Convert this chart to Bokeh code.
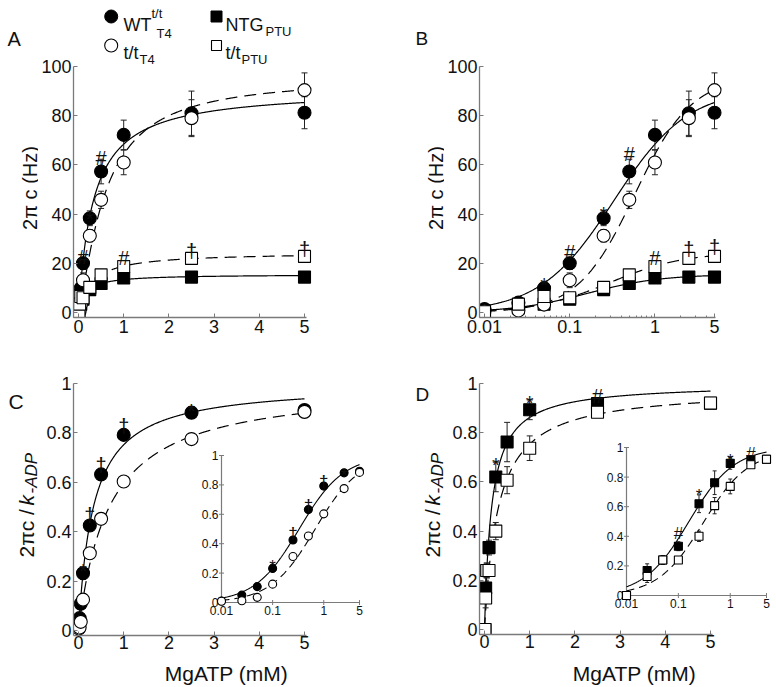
import numpy as np
from bokeh.plotting import figure
from bokeh.models import Range1d, LogScale, FixedTicker, Label
from bokeh.layouts import column, row
from bokeh.core.properties import value
from bokeh.embed import file_html
from bokeh.resources import INLINE

FONT = "Liberation Sans"
INK = "#111111"
AXIS = "#7a7a7a"

# ---------------- data ----------------
mgatp_mM = [0.01, 0.025, 0.05, 0.1, 0.25, 0.5, 1, 2.5, 5]

# 2*pi*c (Hz)  -- panels A and B
wt_t4_hz = [1.4, 4.0, 9.9, 20.0, 38.3, 57.3, 72.2, 81.0, 81.2]
wt_t4_hz_sd = [0.5, 0.8, 1.5, 2.5, 3.0, 5.0, 6.0, 9.0, 6.5]
tt_t4_hz = [0.5, 0.8, 3.2, 13.1, 31.2, 45.8, 61.0, 79.0, 90.4]
tt_t4_hz_sd = [0.3, 0.5, 1.0, 3.0, 2.5, 3.5, 5.0, 7.5, 7.0]
ntg_ptu_hz = [0.6, 1.8, 3.4, 5.4, 9.3, 11.8, 14.0, 14.4, 14.4]
ntg_ptu_hz_sd = [0.2, 0.3, 0.5, 0.8, 1.0, 1.0, 1.0, 1.0, 1.0]
tt_ptu_hz = [0.3, 3.4, 6.5, 6.0, 10.2, 15.3, 18.7, 22.0, 22.8]
tt_ptu_hz_sd = [0.2, 0.8, 1.0, 1.0, 1.0, 1.5, 1.5, 1.5, 1.5]

# 2*pi*c / k-ADP  -- panel C (WT t/t T4, t/t T4) and panel D (NTG PTU, t/t PTU)
wt_t4_norm = [0.01, 0.05, 0.108, 0.232, 0.425, 0.632, 0.792, 0.882, 0.893]
wt_t4_norm_sd = [0.005, 0.01, 0.01, 0.025, 0.02, 0.02, 0.015, 0.015, 0.015]
tt_t4_norm = [0.008, 0.012, 0.035, 0.125, 0.313, 0.452, 0.603, 0.775, 0.885]
tt_t4_norm_sd = [0.005, 0.005, 0.01, 0.02, 0.02, 0.02, 0.015, 0.015, 0.015]
ntg_ptu_norm = [0.0, 0.169, 0.24, 0.333, 0.62, 0.762, 0.893, 0.918, 0.92]
ntg_ptu_norm_sd = [0.005, 0.045, 0.03, 0.03, 0.06, 0.08, 0.04, 0.02, 0.02]
tt_ptu_norm = [0.0, 0.128, 0.24, 0.24, 0.40, 0.607, 0.737, 0.883, 0.921]
tt_ptu_norm_sd = [0.005, 0.04, 0.03, 0.02, 0.035, 0.055, 0.05, 0.01, 0.01]

# fitted curves: vmax * x^n / (km^n + x^n)   order: WT_T4, t/t_T4, NTG_PTU, t/t_PTU
fit_vmax_hz = [91.0, 96.0, 15.5, 24.5]
fit_km_hz = [0.33, 0.58, 0.16, 0.30]
fit_n_hz = [1.0, 1.3, 1.0, 1.0]
fit_vmax_norm = [1.0, 1.0, 1.0, 0.98]
fit_km_norm = [0.33, 0.68, 0.16, 0.30]
fit_n_norm = [1.0, 1.0, 1.0, 1.0]

# significance marks (symbol, MgATP, label baseline in data units)
sig_a_sym = ["#", "*", "#", "#", "\u2020", "\u2020"]
sig_a_x = [0.1, 0.25, 0.5, 1, 2.5, 5]
sig_a_y = [22.4, 38.2, 63.0, 22.0, 25.2, 26.0]
sig_b_sym = ["*", "#", "*", "#", "#", "\u2020", "\u2020"]
sig_b_x = [0.05, 0.1, 0.25, 0.5, 1, 2.5, 5]
sig_b_y = [11.0, 24.4, 40.2, 64.6, 22.0, 26.0, 26.8]
sig_c_sym = ["*", "\u2020", "\u2020", "\u2020", "*"]
sig_c_x = [0.1, 0.25, 0.5, 1, 2.5]
sig_c_y = [0.239, 0.467, 0.669, 0.827, 0.889]
sig_c_inset_y = [0.245, 0.469, 0.662, 0.821, 0.866]
sig_d_sym = ["*", "*", "#"]
sig_d_x = [0.25, 1, 2.5]
sig_d_y = [0.668, 0.919, 0.951]
sig_d_inset_sym = ["#", "*", "*", "#"]
sig_d_inset_x = [0.1, 0.25, 1, 2.5]
sig_d_inset_y = [0.417, 0.678, 0.914, 0.957]

# ticks
lin_x_ticks = [0, 1, 2, 3, 4, 5]
hz_ticks = [0, 20, 40, 60, 80, 100]
norm_ticks = [0, 0.2, 0.4, 0.6, 0.8, 1]
norm_tick_labels = ["0", "0.2", "0.4", "0.6", "0.8", "1"]
log_ticks = [0.01, 0.1, 1, 5]
log_tick_labels = ["0.01", "0.1", "1", "5"]
log_minor = [0.02, 0.03, 0.04, 0.05, 0.06, 0.07, 0.08, 0.09,
             0.2, 0.3, 0.4, 0.5, 0.6, 0.7, 0.8, 0.9, 2, 3, 4]


def hill(x, vmax, km, n):
    x = np.asarray(x, dtype=float)
    return vmax * x ** n / (km ** n + x ** n)


# ---------------- page-pixel <-> data helpers (layout only) ----------------
def lin(p0, v0, p1, v1):
    return lambda p: float(v0 + (p - p0) * (v1 - v0) / (p1 - p0))


def logm(p0, v0, p1, v1):
    a, b = np.log10(v0), np.log10(v1)
    return lambda p: float(10 ** (a + (p - p0) * (b - a) / (p1 - p0)))


def make_fig(canvas, frame, xmap, ymap, xlog=False):
    cx0, cy0, cx1, cy1 = canvas
    fl, ft, fr, fb = frame
    p = figure(width=cx1 - cx0, height=cy1 - cy0,
               frame_width=fr - fl, frame_height=fb - ft,
               min_border_left=fl - cx0, min_border_right=cx1 - fr,
               min_border_top=ft - cy0, min_border_bottom=cy1 - fb,
               x_range=Range1d(xmap(fl), xmap(fr)), y_range=Range1d(ymap(fb), ymap(ft)),
               x_axis_type="log" if xlog else "linear",
               output_backend="svg", toolbar_location=None,
               outline_line_color=None, background_fill_color="white",
               border_fill_color="white")
    p.xgrid.visible = False
    p.ygrid.visible = False
    return p


def make_strip(x0, y0, x1, y1):
    """Blank figure whose data coordinates equal page pixels (for titles/labels)."""
    p = figure(width=x1 - x0, height=y1 - y0, frame_width=x1 - x0, frame_height=y1 - y0,
               min_border=0, min_border_left=0, min_border_right=0,
               min_border_top=0, min_border_bottom=0,
               x_range=Range1d(x0, x1), y_range=Range1d(y1, y0),
               x_axis_location=None, y_axis_location=None,
               output_backend="svg", toolbar_location=None,
               outline_line_color=None, background_fill_color="white",
               border_fill_color="white")
    p.xgrid.visible = False
    p.ygrid.visible = False
    return p


def style_axis(ax, ticks, labels, bounds, minor=()):
    ax.ticker = FixedTicker(ticks=list(ticks), minor_ticks=list(minor))
    if labels is not None:
        ax.major_label_overrides = {float(t): l for t, l in zip(ticks, labels)}
    ax.bounds = bounds
    ax.axis_line_color = AXIS
    ax.axis_line_width = 1.3
    ax.major_tick_in = 4
    ax.major_tick_out = 0
    ax.major_tick_line_color = AXIS
    ax.minor_tick_in = 2
    ax.minor_tick_out = 0
    ax.minor_tick_line_color = AXIS
    ax.major_label_text_font = FONT
    ax.major_label_text_font_size = "18px"
    ax.major_label_text_color = INK
    ax.major_label_standoff = 2


def add_label(p, px, py, text, size, xm=None, ym=None, align="left", angle=0.0, style="normal"):
    x = px if xm is None else xm(px)
    y = py if ym is None else ym(py)
    p.add_layout(Label(x=x, y=y, text=text, angle=angle,
                       text_align=align, text_baseline="alphabetic",
                       text_font=FONT, text_font_size=f"{size}px",
                       text_font_style=style, text_color=INK))


def draw_curves(p, xs, vmaxs, kms, ns, dashes, rn=None, width=1.2):
    kw = {} if rn is None else dict(x_range_name=rn[0], y_range_name=rn[1])
    for v, k, n, d in zip(vmaxs, kms, ns, dashes):
        p.line(xs, hill(xs, v, k, n), line_color="black", line_width=width,
               line_dash=d, **kw)


def draw_points(p, series, rn=None, cap=6):
    kw = {} if rn is None else dict(x_range_name=rn[0], y_range_name=rn[1])
    for x, y, sd, marker, filled, size in series:
        lo = [a - b for a, b in zip(y, sd)]
        hi = [a + b for a, b in zip(y, sd)]
        p.segment(x0=x, y0=lo, x1=x, y1=hi, line_color="#222222", line_width=1, **kw)
        p.scatter(x=x, y=hi, marker="dash", size=cap, line_color="#222222", line_width=1, **kw)
        p.scatter(x=x, y=lo, marker="dash", size=cap, line_color="#222222", line_width=1, **kw)
    for x, y, sd, marker, filled, size in series:
        p.scatter(x=x, y=y, marker=marker, size=size,
                  fill_color="black" if filled else "white",
                  line_color="black", line_width=1.1, **kw)


def draw_sig(p, syms, xs, ys, size=20, rn=None):
    kw = {} if rn is None else dict(x_range_name=rn[0], y_range_name=rn[1])
    p.text(x=xs, y=ys, text=syms, text_align="center", text_baseline="alphabetic",
           text_font=value(FONT), text_font_size=f"{size}px", text_color=INK, **kw)


def draw_inset_axes(p, rn):
    kw = dict(x_range_name=rn[0], y_range_name=rn[1])
    p.line([log_ticks[0], log_ticks[-1]], [norm_ticks[0], norm_ticks[0]],
           line_color=AXIS, line_width=1.2, **kw)
    p.line([log_ticks[0], log_ticks[0]], [norm_ticks[0], norm_ticks[-1]],
           line_color=AXIS, line_width=1.2, **kw)
    p.scatter(x=[log_ticks[0]] * (len(norm_ticks) - 1), y=norm_ticks[1:], marker="dash",
              size=5, line_color=AXIS, **kw)
    p.scatter(x=log_ticks[1:], y=[norm_ticks[0]] * (len(log_ticks) - 1), marker="dash",
              angle=np.pi / 2, size=5, line_color=AXIS, **kw)
    p.text(x=log_ticks, y=[norm_ticks[0]] * len(log_ticks), text=log_tick_labels,
           y_offset=3, text_align="center", text_baseline="top",
           text_font=value(FONT), text_font_size="12px", text_color=INK, **kw)
    p.text(x=[log_ticks[0]] * len(norm_ticks), y=norm_ticks, text=norm_tick_labels,
           x_offset=-3, text_align="right", text_baseline="middle",
           text_font=value(FONT), text_font_size="12px", text_color=INK, **kw)


x_lin = np.linspace(0, 5, 400)
x_log = np.geomspace(0.01, 5, 400)
solid_dash = ["solid", "12 7", "solid", "12 7"]

# ======================= Panel A =======================
xA = lin(78, 0, 304, 5)
yA = lin(312, 0, 66, 100)
pA = make_fig((38, 0, 392, 344), (73, 0, 320, 317), xA, yA)
style_axis(pA.xaxis[0], lin_x_ticks, None, (xA(73), 5.05))
style_axis(pA.yaxis[0], hz_ticks, None, (yA(317), 100))
draw_curves(pA, x_lin, fit_vmax_hz, fit_km_hz, fit_n_hz, solid_dash)
draw_points(pA, [
    (mgatp_mM, wt_t4_hz, wt_t4_hz_sd, "circle", True, 13),
    (mgatp_mM, ntg_ptu_hz, ntg_ptu_hz_sd, "square", True, 12),
    (mgatp_mM, tt_t4_hz, tt_t4_hz_sd, "circle", False, 13),
    (mgatp_mM, tt_ptu_hz, tt_ptu_hz_sd, "square", False, 12),
])
draw_sig(pA, sig_a_sym, sig_a_x, sig_a_y)

# legend (layout positions in page pixels)
pA.scatter(x=[xA(110.7)], y=[yA(16)], marker="circle", size=13, fill_color="black", line_color="black")
pA.scatter(x=[xA(216)], y=[yA(16)], marker="square", size=11, fill_color="black", line_color="black")
pA.scatter(x=[xA(110.7)], y=[yA(45)], marker="circle", size=13, fill_color="white", line_color="black", line_width=1.1)
pA.scatter(x=[xA(216)], y=[yA(45)], marker="square", size=10, fill_color="white", line_color="black", line_width=1.1)
add_label(pA, 123, 24, "WT", 18, xA, yA)
add_label(pA, 151, 13, "t/t", 13, xA, yA)
add_label(pA, 156, 33, "T4", 13, xA, yA)
add_label(pA, 225, 24, "NTG", 18, xA, yA)
add_label(pA, 265, 31, "PTU", 13, xA, yA)
add_label(pA, 123, 52, "t/t", 18, xA, yA)
add_label(pA, 139, 59, "T4", 13, xA, yA)
add_label(pA, 225, 52, "t/t", 18, xA, yA)
add_label(pA, 241, 59, "PTU", 13, xA, yA)

sA = make_strip(0, 0, 38, 344)
add_label(sA, 7, 38, "A", 20)
add_label(sA, 29, 187.5, "2\u03c0 c (Hz)", 20, align="center", angle=np.pi / 2)

# ======================= Panel B =======================
xB = logm(484, 0.01, 714, 5)
yB = lin(312, 0, 66, 100)
pB = make_fig((444, 0, 775, 344), (479, 0, 728, 317), xB, yB, xlog=True)
style_axis(pB.xaxis[0], log_ticks, log_tick_labels, (xB(479), 5.1), minor=log_minor)
style_axis(pB.yaxis[0], hz_ticks, None, (yB(317), 100))
draw_curves(pB, x_log, fit_vmax_hz, fit_km_hz, fit_n_hz, solid_dash)
draw_points(pB, [
    (mgatp_mM, wt_t4_hz, wt_t4_hz_sd, "circle", True, 13),
    (mgatp_mM, ntg_ptu_hz, ntg_ptu_hz_sd, "square", True, 12),
    (mgatp_mM, tt_t4_hz, tt_t4_hz_sd, "circle", False, 13),
    (mgatp_mM, tt_ptu_hz, tt_ptu_hz_sd, "square", False, 12),
])
draw_sig(pB, sig_b_sym, sig_b_x, sig_b_y)

sB = make_strip(392, 0, 444, 344)
add_label(sB, 415, 38, "B", 19)
add_label(sB, 435, 187.5, "2\u03c0 c (Hz)", 20, align="center", angle=np.pi / 2)

# ======================= Panel C =======================
xC = lin(78, 0, 304, 5)
yC = lin(630, 0, 383, 1)
C_frame = (73, 350, 370, 635)
pC = make_fig((38, 344, 392, 657), C_frame, xC, yC)
style_axis(pC.xaxis[0], lin_x_ticks, None, (xC(73), 5.05))
style_axis(pC.yaxis[0], norm_ticks, norm_tick_labels, (yC(635), 1))
pC.xaxis[0].major_label_standoff = 0
ixC = logm(221, 0.01, 359, 5)
iyC = lin(602, 0, 455, 1)
pC.extra_x_ranges = {"ix": Range1d(ixC(C_frame[0]), ixC(C_frame[2]))}
pC.extra_x_scales = {"ix": LogScale()}
pC.extra_y_ranges = {"iy": Range1d(iyC(C_frame[3]), iyC(C_frame[1]))}
rnC = ("ix", "iy")

draw_curves(pC, x_lin, fit_vmax_norm[:2], fit_km_norm[:2], fit_n_norm[:2], solid_dash[:2])
draw_points(pC, [
    (mgatp_mM, wt_t4_norm, wt_t4_norm_sd, "circle", True, 13),
    (mgatp_mM, tt_t4_norm, tt_t4_norm_sd, "circle", False, 13),
])
draw_sig(pC, sig_c_sym, sig_c_x, sig_c_y)
draw_inset_axes(pC, rnC)
draw_curves(pC, x_log, fit_vmax_norm[:2], fit_km_norm[:2], fit_n_norm[:2], ["solid", "8 5"], rn=rnC, width=1.1)
draw_points(pC, [
    (mgatp_mM, wt_t4_norm, wt_t4_norm_sd, "circle", True, 8),
    (mgatp_mM, tt_t4_norm, tt_t4_norm_sd, "circle", False, 8),
], rn=rnC, cap=4)
draw_sig(pC, sig_c_sym, sig_c_x, sig_c_inset_y, size=17, rn=rnC)

sC = make_strip(0, 344, 38, 686)
add_label(sC, 8, 401, "C", 21)
add_label(sC, 26, 557, "2\u03c0c / ", 21, angle=np.pi / 2)
add_label(sC, 26, 505, "k", 21, angle=np.pi / 2, style="italic")
add_label(sC, 31, 493, "-ADP", 17, angle=np.pi / 2, style="italic")
xsC = make_strip(38, 657, 392, 686)
add_label(xsC, 191, 673, "MgATP (mM)", 21, align="center")

# ======================= Panel D =======================
xD = lin(484, 0, 710, 5)
yD = lin(629, 0, 383, 1)
D_frame = (479, 350, 772, 634)
pD = make_fig((444, 344, 775, 657), D_frame, xD, yD)
style_axis(pD.xaxis[0], lin_x_ticks, None, (xD(479), 5.05))
style_axis(pD.yaxis[0], norm_ticks, norm_tick_labels, (yD(634), 1))
pD.xaxis[0].major_label_standoff = 0
ixD = logm(626, 0.01, 766, 5)
iyD = lin(595, 0, 447, 1)
pD.extra_x_ranges = {"ix": Range1d(ixD(D_frame[0]), ixD(D_frame[2]))}
pD.extra_x_scales = {"ix": LogScale()}
pD.extra_y_ranges = {"iy": Range1d(iyD(D_frame[3]), iyD(D_frame[1]))}
rnD = ("ix", "iy")

draw_curves(pD, x_lin, fit_vmax_norm[2:], fit_km_norm[2:], fit_n_norm[2:], solid_dash[2:])
draw_points(pD, [
    (mgatp_mM, ntg_ptu_norm, ntg_ptu_norm_sd, "square", True, 12),
    (mgatp_mM, tt_ptu_norm, tt_ptu_norm_sd, "square", False, 12),
])
draw_sig(pD, sig_d_sym, sig_d_x, sig_d_y)
draw_inset_axes(pD, rnD)
draw_curves(pD, x_log, fit_vmax_norm[2:], fit_km_norm[2:], fit_n_norm[2:], ["solid", "8 5"], rn=rnD, width=1.1)
draw_points(pD, [
    (mgatp_mM, ntg_ptu_norm, ntg_ptu_norm_sd, "square", True, 8),
    (mgatp_mM, tt_ptu_norm, tt_ptu_norm_sd, "square", False, 8),
], rn=rnD, cap=4)
draw_sig(pD, sig_d_inset_sym, sig_d_inset_x, sig_d_inset_y, size=17, rn=rnD)

sD = make_strip(392, 344, 444, 686)
add_label(sD, 415, 394, "D", 19)
add_label(sD, 432, 557, "2\u03c0c / ", 21, angle=np.pi / 2)
add_label(sD, 432, 505, "k", 21, angle=np.pi / 2, style="italic")
add_label(sD, 437, 493, "-ADP", 17, angle=np.pi / 2, style="italic")
xsD = make_strip(444, 657, 775, 686)
add_label(xsD, 599, 673, "MgATP (mM)", 21, align="center")

layout = column(
    row(sA, pA, sB, pB),
    row(sC, column(pC, xsC), sD, column(pD, xsD)),
)
open("out.html", "w").write(file_html(layout, INLINE))
